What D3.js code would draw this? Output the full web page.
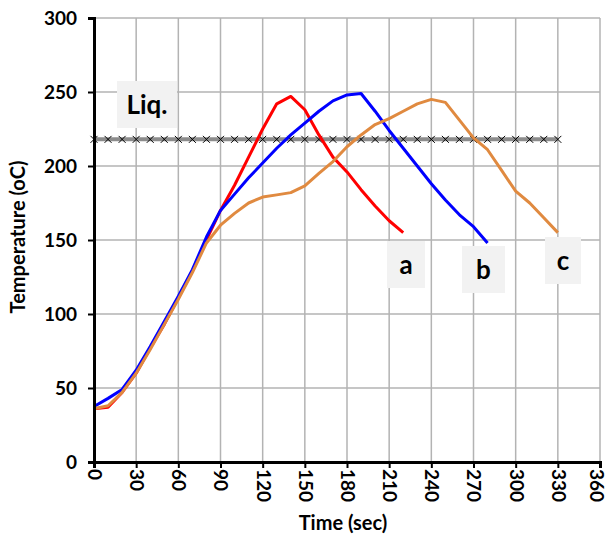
<!DOCTYPE html>
<html>
<head>
<meta charset="utf-8">
<script src="https://cdn.jsdelivr.net/npm/d3@7"></script>
<style>
  body { margin: 0; background: #fff; }
  svg text { font-family: Lato, "Open Sans", sans-serif; font-weight: bold; }
</style>
</head>
<body>
<svg id="chart" width="608" height="535"></svg>
<script>
// Data - temperature readings every 10 sec
const timeA = d3.range(0, 230, 10);
const tempA = [36, 37, 47, 60, 77, 93, 111, 129, 150, 170, 187, 206, 225, 242, 247, 238, 221, 206, 196, 184, 173, 163, 155];

const timeB = d3.range(0, 290, 10);
const tempB = [37.5, 43, 49, 62, 78, 95, 112, 130, 152, 170, 181, 192, 202, 212, 221, 229, 237, 244, 248, 249, 237, 224, 212, 200, 188, 177, 167, 159, 148];

const timeC = d3.range(0, 340, 10);
const tempC = [36, 38, 47, 60, 76, 93, 110, 128, 148, 160, 168, 175, 179, 180.5, 182, 186.5, 195, 203, 213, 221, 228, 232, 237, 242, 245, 243, 231, 219, 211, 197, 183, 175, 165, 155];

const liqTime = d3.range(0, 340, 10);
const liqTemp = 218;

const seriesNames = ["a", "b", "c"];
const seriesColors = ["#ff0000", "#0000ff", "#e08a40"];

const xTicks = d3.range(0, 361, 30);
const yTicks = d3.range(0, 301, 50);

// Dimensions
const margin = { top: 18, right: 8, bottom: 73, left: 94 };
const width = 608 - margin.left - margin.right;
const height = 535 - margin.top - margin.bottom;

const svg = d3.select("#chart");
const g = svg.append("g").attr("transform", `translate(${margin.left},${margin.top})`);

const x = d3.scaleLinear().domain([0, 360]).range([0, width]);
const y = d3.scaleLinear().domain([0, 300]).range([height, 0]);

// Gridlines
g.append("g")
    .selectAll("line.vgrid")
    .data(xTicks.slice(1))
    .join("line")
    .attr("x1", d => x(d)).attr("x2", d => x(d))
    .attr("y1", 0).attr("y2", height)
    .attr("stroke", "#b3b3b3")
    .attr("stroke-width", 1.5);

g.append("g")
    .selectAll("line.hgrid")
    .data(yTicks.slice(1))
    .join("line")
    .attr("x1", 0).attr("x2", width)
    .attr("y1", d => y(d)).attr("y2", d => y(d))
    .attr("stroke", "#b3b3b3")
    .attr("stroke-width", 1.5);

// Liq. line with x markers
const line = d3.line().x(d => x(d[0])).y(d => y(d[1]));
const liqData = liqTime.map(t => [t, liqTemp]);

g.append("path")
    .datum(liqData)
    .attr("d", line)
    .attr("fill", "none")
    .attr("stroke", "#8c8c8c")
    .attr("stroke-width", 4);

const m = 3.5;
g.append("g")
    .selectAll("path.marker")
    .data(liqData)
    .join("path")
    .attr("d", d => `M${x(d[0]) - m},${y(d[1]) - m}L${x(d[0]) + m},${y(d[1]) + m}M${x(d[0]) - m},${y(d[1]) + m}L${x(d[0]) + m},${y(d[1]) - m}`)
    .attr("stroke", "#000")
    .attr("stroke-width", 1);

// Series lines
const series = [
    timeA.map((t, i) => [t, tempA[i]]),
    timeB.map((t, i) => [t, tempB[i]]),
    timeC.map((t, i) => [t, tempC[i]])
];

// draw order: red, blue, orange on top
g.append("g")
    .selectAll("path.series")
    .data(series)
    .join("path")
    .attr("d", line)
    .attr("fill", "none")
    .attr("stroke", (d, i) => seriesColors[i])
    .attr("stroke-width", 3)
    .attr("stroke-linejoin", "round");

// Axes
const yAxis = g.append("g")
    .call(d3.axisLeft(y).tickValues(yTicks).tickSize(6).tickPadding(11));
yAxis.select(".domain").attr("stroke-width", 3);
yAxis.selectAll(".tick line").attr("stroke-width", 2);
yAxis.selectAll(".tick text").attr("font-size", 19).attr("fill", "#000");

const xAxis = g.append("g")
    .attr("transform", `translate(0,${height})`)
    .call(d3.axisBottom(x).tickValues(xTicks).tickSize(6));
xAxis.select(".domain").attr("stroke-width", 3);
xAxis.selectAll(".tick line").attr("stroke-width", 2);
xAxis.selectAll(".tick text")
    .attr("font-size", 19)
    .attr("fill", "#000")
    .attr("transform", "rotate(90)")
    .attr("x", 7)
    .attr("y", d => d === 360 ? 4 : 0)   // keep last label inside the frame
    .attr("dy", "0.35em")
    .attr("text-anchor", "start");

// Axis titles
svg.append("text")
    .attr("x", margin.left + width / 2 - 4)
    .attr("y", 530)
    .attr("text-anchor", "middle")
    .attr("font-size", 20)
    .text("Time (sec)");

svg.append("text")
    .attr("transform", `translate(25,${margin.top + height / 2 - 3}) rotate(-90)`)
    .attr("text-anchor", "middle")
    .attr("font-size", 20)
    .text("Temperature (oC)");

// Labels with grey boxes
const labelBoxes = [
    { text: "Liq.", x: 117, y: 81, w: 60, h: 47 },
    { text: "a", x: 387, y: 241, w: 38, h: 47 },
    { text: "b", x: 462, y: 246, w: 43, h: 47 },
    { text: "c", x: 545, y: 237, w: 36, h: 47 }
];

const boxes = svg.append("g")
    .selectAll("g.label")
    .data(labelBoxes)
    .join("g");
boxes.append("rect")
    .attr("x", d => d.x).attr("y", d => d.y)
    .attr("width", d => d.w).attr("height", d => d.h)
    .attr("fill", "#f2f2f2");
boxes.append("text")
    .attr("x", d => d.x + d.w / 2)
    .attr("y", d => d.y + d.h / 2)
    .attr("dy", "0.35em")
    .attr("text-anchor", "middle")
    .attr("font-size", 26)
    .text(d => d.text);
</script>
</body>
</html>
